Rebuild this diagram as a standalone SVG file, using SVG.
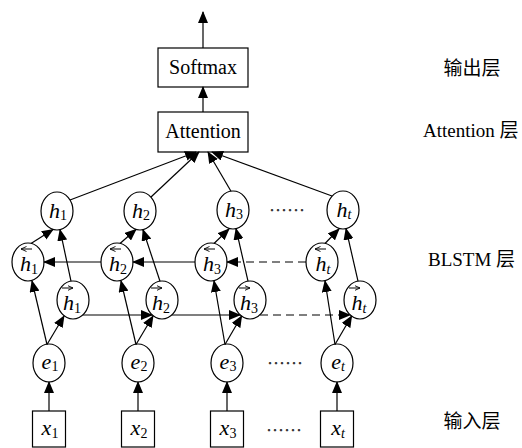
<svg xmlns="http://www.w3.org/2000/svg" width="522" height="448" viewBox="0 0 522 448">
<style>
.n{fill:#fff;stroke:#000;stroke-width:1.2}
.c line{stroke:#000;stroke-width:1.2;marker-end:url(#ah)}
.c line.d{stroke-dasharray:8 5}
.t{font-family:"Liberation Serif","Noto Sans CJK SC",serif;fill:#000}
.v{font-family:"Liberation Serif",serif;font-style:italic;font-size:22px;fill:#000;text-anchor:middle}
.s{font-size:14px;font-style:normal}
.si{font-size:14px}
.acc{stroke:#000;stroke-width:1;fill:none}
.dots{font-family:"Noto Sans CJK SC",sans-serif;font-size:18px;fill:#333;text-anchor:middle}
</style>
<defs>
<marker id="ah" markerWidth="12" markerHeight="10" refX="11" refY="5" orient="auto" markerUnits="userSpaceOnUse"><path d="M0,0 L12,5 L0,10 z" fill="#000"/></marker>
<marker id="sa" markerWidth="6" markerHeight="6" refX="5.5" refY="3" orient="auto" markerUnits="userSpaceOnUse"><path d="M0,0.5 L5.5,3 L0,5.5" fill="none" stroke="#000" stroke-width="0.9"/></marker>
</defs>

<g id="softmax"><rect class="n" x="158" y="48" width="90" height="39"/><text class="t" x="203" y="74" font-size="20" text-anchor="middle">Softmax</text></g>
<g id="attention"><rect class="n" x="158" y="112" width="90" height="40"/><text class="t" x="203" y="138" font-size="20" text-anchor="middle">Attention</text></g>

<g id="h1"><ellipse class="n" cx="57" cy="211" rx="16" ry="19"/><text class="v" x="58" y="218">h<tspan class="s" dy="2">1</tspan></text></g>
<g id="h2"><ellipse class="n" cx="140" cy="211" rx="16" ry="19"/><text class="v" x="141" y="218">h<tspan class="s" dy="2">2</tspan></text></g>
<g id="h3"><ellipse class="n" cx="233" cy="210" rx="16" ry="19"/><text class="v" x="234" y="217">h<tspan class="s" dy="2">3</tspan></text></g>
<g id="ht"><ellipse class="n" cx="343" cy="210" rx="16" ry="19"/><text class="v" x="344" y="217">h<tspan class="si" dy="2">t</tspan></text></g>

<g id="hb1"><ellipse class="n" cx="28" cy="262" rx="16" ry="19"/><text class="v" x="29" y="271">h<tspan class="s" dy="3">1</tspan></text><line class="acc" x1="32" y1="249" x2="21" y2="249" marker-end="url(#sa)"/></g>
<g id="hb2"><ellipse class="n" cx="117" cy="262" rx="16" ry="19"/><text class="v" x="118" y="271">h<tspan class="s" dy="3">2</tspan></text><line class="acc" x1="121" y1="249" x2="110" y2="249" marker-end="url(#sa)"/></g>
<g id="hb3"><ellipse class="n" cx="211" cy="262" rx="16" ry="19"/><text class="v" x="212" y="271">h<tspan class="s" dy="3">3</tspan></text><line class="acc" x1="215" y1="249" x2="204" y2="249" marker-end="url(#sa)"/></g>
<g id="hbt"><ellipse class="n" cx="322" cy="262" rx="16" ry="19"/><text class="v" x="323" y="271">h<tspan class="si" dy="3">t</tspan></text><line class="acc" x1="326" y1="249" x2="315" y2="249" marker-end="url(#sa)"/></g>

<g id="hf1"><ellipse class="n" cx="73" cy="300" rx="16" ry="19"/><text class="v" x="72" y="310">h<tspan class="s" dy="3">1</tspan></text><line class="acc" x1="62" y1="288" x2="73" y2="288" marker-end="url(#sa)"/></g>
<g id="hf2"><ellipse class="n" cx="162" cy="300" rx="16" ry="19"/><text class="v" x="161" y="310">h<tspan class="s" dy="3">2</tspan></text><line class="acc" x1="151" y1="288" x2="162" y2="288" marker-end="url(#sa)"/></g>
<g id="hf3"><ellipse class="n" cx="250" cy="300" rx="16" ry="19"/><text class="v" x="249" y="310">h<tspan class="s" dy="3">3</tspan></text><line class="acc" x1="239" y1="288" x2="250" y2="288" marker-end="url(#sa)"/></g>
<g id="hft"><ellipse class="n" cx="360" cy="300" rx="16" ry="19"/><text class="v" x="359" y="310">h<tspan class="si" dy="3">t</tspan></text><line class="acc" x1="349" y1="288" x2="360" y2="288" marker-end="url(#sa)"/></g>

<g id="e1"><ellipse class="n" cx="49" cy="363" rx="16" ry="19"/><text class="v" x="50" y="369">e<tspan class="s" dy="2">1</tspan></text></g>
<g id="e2"><ellipse class="n" cx="138" cy="363" rx="16" ry="19"/><text class="v" x="139" y="369">e<tspan class="s" dy="2">2</tspan></text></g>
<g id="e3"><ellipse class="n" cx="227" cy="363" rx="16" ry="19"/><text class="v" x="228" y="369">e<tspan class="s" dy="2">3</tspan></text></g>
<g id="et"><ellipse class="n" cx="337" cy="363" rx="16" ry="19"/><text class="v" x="338" y="369">e<tspan class="si" dy="2">t</tspan></text></g>

<g id="x1"><rect class="n" x="32.5" y="411" width="33" height="36"/><text class="v" x="50" y="435">x<tspan class="s" dy="3">1</tspan></text></g>
<g id="x2"><rect class="n" x="121.5" y="411" width="33" height="36"/><text class="v" x="139" y="435">x<tspan class="s" dy="3">2</tspan></text></g>
<g id="x3"><rect class="n" x="210.5" y="411" width="33" height="36"/><text class="v" x="228" y="435">x<tspan class="s" dy="3">3</tspan></text></g>
<g id="xt"><rect class="n" x="320.5" y="411" width="33" height="36"/><text class="v" x="338" y="435">x<tspan class="si" dy="3">t</tspan></text></g>

<g id="dots">
<text class="dots" x="287" y="217">……</text>
<text class="dots" x="285" y="370">……</text>
<text class="dots" x="284" y="437">……</text>
</g>

<g id="labels" class="t" font-size="19">
<text x="472" y="75" text-anchor="middle">输出层</text>
<text x="423" y="137">Attention 层</text>
<text x="428" y="266">BLSTM 层</text>
<text x="472" y="428" text-anchor="middle">输入层</text>
</g>

<g id="connectors" class="c">
<line x1="203" y1="48" x2="203" y2="12"/>
<line x1="203" y1="112" x2="203" y2="87"/>
<line x1="70" y1="200" x2="196" y2="152"/>
<line x1="151" y1="197" x2="199" y2="152"/>
<line x1="231" y1="191.2" x2="208" y2="152"/>
<line x1="332" y1="196" x2="212" y2="152"/>

<line x1="31" y1="243.5" x2="53" y2="229.5"/>
<line x1="120" y1="243.5" x2="136" y2="229.5"/>
<line x1="214" y1="243.5" x2="229" y2="229"/>
<line x1="325" y1="243.5" x2="339" y2="229"/>

<line x1="71" y1="281.2" x2="60" y2="229.7"/>
<line x1="160" y1="281.2" x2="143" y2="229.7"/>
<line x1="248" y1="281.2" x2="236" y2="228.7"/>
<line x1="358" y1="281.2" x2="346" y2="228.7"/>

<line x1="101" y1="262" x2="44" y2="262"/>
<line x1="195" y1="262" x2="133" y2="262"/>
<line class="d" x1="306" y1="262" x2="227" y2="262"/>

<line x1="83" y1="315" x2="152" y2="315"/>
<line x1="172" y1="315" x2="240" y2="315"/>
<line class="d" x1="260" y1="315" x2="350" y2="315"/>

<line x1="47" y1="344.5" x2="32" y2="281"/>
<line x1="136" y1="344.5" x2="121" y2="281"/>
<line x1="225" y1="344.5" x2="214" y2="281"/>
<line x1="335" y1="344.5" x2="325" y2="281"/>

<line x1="47" y1="344.5" x2="64" y2="316"/>
<line x1="136" y1="344.5" x2="153" y2="316"/>
<line x1="225" y1="344.5" x2="241.6" y2="316"/>
<line x1="335" y1="344.5" x2="351.6" y2="316"/>

<line x1="49" y1="411" x2="49" y2="382"/>
<line x1="138" y1="411" x2="138" y2="382"/>
<line x1="227" y1="411" x2="227" y2="382"/>
<line x1="337" y1="411" x2="337" y2="382"/>
</g>
</svg>
